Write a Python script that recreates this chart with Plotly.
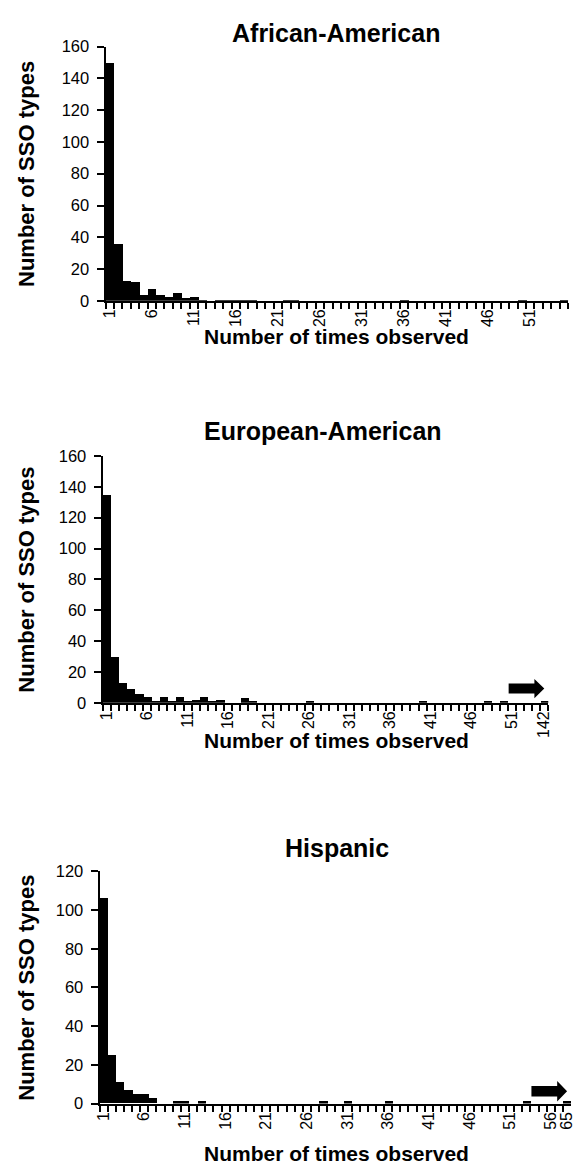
import plotly.graph_objects as go

# page is 584x1175; the html body has an 8px margin, so the figure is sized to fit inside it
PAGE_W, PAGE_H = 584, 1175
OFF = 8
W, H = PAGE_W - 2 * OFF, PAGE_H - 2 * OFF
# empirical correction between requested page pixels and the photographed result
XA, XB = 0.65, 0.9936
YA, YB = 6.5, 0.986

# ---------------- data ----------------
aa_title = "African-American"
aa_categories = [str(i) for i in range(1, 56)]
aa_counts = [150, 36, 13, 12, 4, 8, 4, 3, 5, 2, 3, 1,
             0, 1, 1, 1, 1, 1, 0, 0, 0, 1, 1,
             0, 0, 0, 0, 0, 0, 0, 0, 0, 0, 0, 0,
             1,
             0, 0, 0, 0, 0, 0, 0, 0, 0, 0, 0, 0, 0,
             1, 0, 0, 0, 0, 1]
aa_ticklabels = ["1", "6", "11", "16", "21", "26", "31", "36", "41", "46", "51"]

ea_title = "European-American"
ea_categories = [str(i) for i in range(1, 55)] + ["142"]
ea_counts = [135, 30, 13, 9, 6, 4, 1, 4, 1, 4, 1, 2, 4, 1, 2,
             0, 0, 3, 1,
             0, 0, 0, 0, 0, 0,
             1,
             0, 0, 0, 0, 0, 0, 0, 0, 0, 0, 0, 0, 0,
             1,
             0, 0, 0, 0, 0, 0, 0,
             1, 0, 1, 0, 0, 0, 0, 1]
ea_ticklabels = ["1", "6", "11", "16", "21", "26", "31", "36", "41", "46", "51", "142"]

hi_title = "Hispanic"
hi_categories = [str(i) for i in range(1, 58)] + ["65"]
hi_counts = [106, 25, 11, 7, 5, 5, 3,
             0, 0, 1, 1, 0, 1,
             0, 0, 0, 0, 0, 0, 0, 0, 0, 0, 0, 0, 0, 0,
             1, 0, 0, 1, 0, 0, 0, 0, 1,
             0, 0, 0, 0, 0, 0, 0, 0, 0, 0, 0, 0, 0, 0, 0, 0,
             1, 0, 0, 0, 0, 1]
hi_ticklabels = ["1", "6", "11", "16", "21", "26", "31", "36", "41", "46", "51", "56", "65"]

y_title = "Number of SSO types"
x_title = "Number of times observed"

# ---------------- layout helpers (page pixel -> paper) ----------------
def px(x):
    xi = (x - XA) / XB
    return (xi - OFF) / W

def py(y):
    yi = (y - YA) / YB
    return 1 - (yi - OFF) / H

panels = [
    # categories, counts, ticklabels, title, x-domain px, y-domain px (top,bottom), ymax, title y, xtitle y, title x
    (aa_categories, aa_counts, aa_ticklabels, aa_title, (102, 569), (44, 298.7), 160, 30, 334, 335),
    (ea_categories, ea_counts, ea_ticklabels, ea_title, (99, 549), (454, 701.3), 160, 429, 739, 322),
    (hi_categories, hi_counts, hi_ticklabels, hi_title, (96, 572), (870, 1102.7), 120, 847, 1153, 336),
]

fig = go.Figure()
layout = dict(
    width=W, height=H,
    margin=dict(l=0, r=0, t=0, b=0),
    paper_bgcolor="white", plot_bgcolor="white",
    showlegend=False, bargap=0,
    font=dict(family="Liberation Sans, Arial, sans-serif", color="black"),
)
annotations = []
shapes = []

for i, (cats, counts, tlabels, title, xd, yd, ymax, ty, xty, tx) in enumerate(panels, start=1):
    xa = "x" if i == 1 else f"x{i}"
    ya = "y" if i == 1 else f"y{i}"
    fig.add_trace(go.Bar(x=cats, y=counts, xaxis=xa, yaxis=ya,
                         marker=dict(color="black", line=dict(width=0)),
                         width=1.0))
    ticktext = [c if c in tlabels else "" for c in cats]
    layout["xaxis" if i == 1 else f"xaxis{i}"] = dict(
        domain=[px(xd[0]), px(xd[1])], anchor=ya,
        type="category", range=[-0.5, len(cats) - 0.5],
        tickmode="array", tickvals=cats, ticktext=ticktext,
        tickson="boundaries", ticks="outside", ticklen=6, tickwidth=1.5,
        tickcolor="black", tickangle=-90, ticklabelstandoff=0,
        tickfont=dict(size=16, color="black"),
        showline=True, linecolor="black", linewidth=2,
        showgrid=False, zeroline=False, fixedrange=True,
    )
    layout["yaxis" if i == 1 else f"yaxis{i}"] = dict(
        domain=[py(yd[1]), py(yd[0])], anchor=xa,
        range=[0, ymax], dtick=20, tick0=0,
        ticks="outside", ticklen=7, tickwidth=1.5, tickcolor="black",
        ticklabelstandoff=4,
        tickfont=dict(size=16.5, color="black"),
        showline=True, linecolor="black", linewidth=2,
        showgrid=False, zeroline=False, fixedrange=True,
    )
    annotations.append(dict(text=f"<b>{title}</b>", x=px(tx), y=py(ty),
                            xref="paper", yref="paper", showarrow=False,
                            xanchor="center", yanchor="middle",
                            font=dict(size=25, color="black")))
    annotations.append(dict(text=f"<b>{x_title}</b>", x=px(335), y=py(xty),
                            xref="paper", yref="paper", showarrow=False,
                            xanchor="center", yanchor="middle",
                            font=dict(size=21, color="black")))
    annotations.append(dict(text=f"<b>{y_title}</b>", x=px(22), y=py((yd[0] + yd[1]) / 2),
                            xref="paper", yref="paper", showarrow=False, textangle=-90,
                            xanchor="center", yanchor="middle",
                            font=dict(size=22, color="black")))

# block arrows indicating truncated axis (decoration)
def block_arrow(x0, xh, xt, yc, hb, hh):
    pts = [(x0, yc - hb), (xh, yc - hb), (xh, yc - hh), (xt, yc),
           (xh, yc + hh), (xh, yc + hb), (x0, yc + hb)]
    d = "M " + " L ".join(f"{px(a):.5f},{py(b):.5f}" for a, b in pts) + " Z"
    return dict(type="path", path=d, xref="paper", yref="paper",
                fillcolor="black", line=dict(color="black", width=0))

shapes.append(block_arrow(509, 535, 545, 687, 5, 9.7))
shapes.append(block_arrow(532, 558, 568, 1090.3, 5.3, 10.3))

layout["annotations"] = annotations
layout["shapes"] = shapes
fig.update_layout(**layout)
fig.write_html("out.html")
